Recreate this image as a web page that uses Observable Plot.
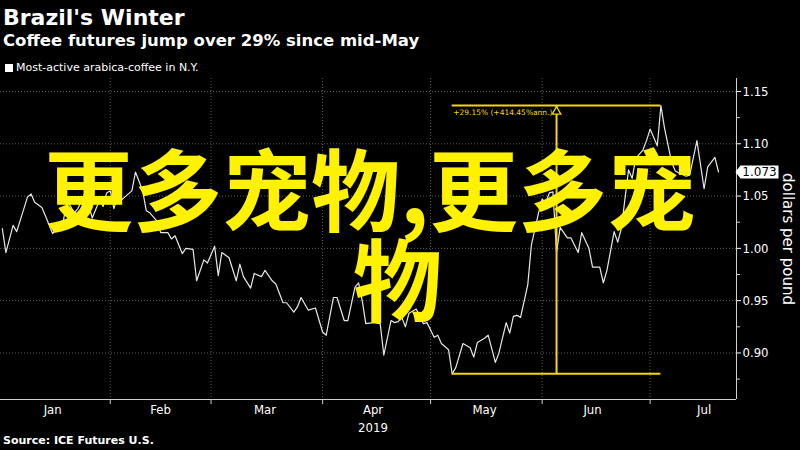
<!DOCTYPE html>
<html>
<head>
<meta charset="utf-8">
<script src="https://cdn.jsdelivr.net/npm/d3@7"></script>
<script src="https://cdn.jsdelivr.net/npm/@observablehq/plot@0.6"></script>
<style>
  html, body { margin: 0; padding: 0; background: #000; }
  #wrap { position: relative; width: 800px; height: 450px; background: #000; overflow: hidden;
          font-family: "DejaVu Sans", sans-serif; color: #fff; }
  #title { position: absolute; left: 3px; top: 7px; font-weight: bold; font-size: 22px; line-height: 22px; white-space: nowrap; }
  #subtitle { position: absolute; left: 3px; top: 33px; font-weight: bold; font-size: 16.5px; line-height: 16.5px; white-space: nowrap; }
  #legend { position: absolute; left: 5px; top: 62px; font-size: 11px; line-height: 12px; white-space: nowrap; display: flex; align-items: center; }
  #legend .sw { display: inline-block; width: 8px; height: 8px; background: #fff; margin-right: 3px; }
  #chart { position: absolute; left: 0; top: 78px; }
  #caption { position: absolute; left: 3px; top: 434px; font-weight: bold; font-size: 11px; line-height: 13px; white-space: nowrap; }
  #big { position: absolute; left: 44px; top: 141px; font-family: "Noto Sans CJK SC", sans-serif; font-weight: 700; font-size: 89px;
         line-height: 90px; color: #fff200; white-space: nowrap; pointer-events: none; }
  #big .l2 { margin-left: 309px; }
</style>
</head>
<body>
<div id="wrap">
  <div id="title"></div>
  <div id="subtitle"></div>
  <div id="legend"><span class="sw"></span><span id="legendText"></span></div>
  <div id="chart"></div>
  <div id="caption"></div>
  <div id="big"><span id="big1"></span><br><span class="l2" id="big2"></span></div>
</div>
<script>
// ---- text ----
const titleText = "Brazil's Winter";
const subtitleText = "Coffee futures jump over 29% since mid-May";
const legendLabel = "Most-active arabica-coffee in N.Y.";
const captionText = "Source: ICE Futures U.S.";
const overlayLine1 = "更多宠物,更多宠";
const overlayLine2 = "物";
const yAxisLabel = "dollars per pound";

// ---- series ----
const dates = [
"2019-01-02","2019-01-03","2019-01-05","2019-01-06","2019-01-07","2019-01-09","2019-01-10","2019-01-11","2019-01-13","2019-01-14",
"2019-01-16","2019-01-17","2019-01-19","2019-01-20","2019-01-22","2019-01-23","2019-01-25","2019-01-26","2019-01-27","2019-01-29",
"2019-01-30","2019-01-31","2019-02-01","2019-02-02","2019-02-03","2019-02-04","2019-02-05","2019-02-07","2019-02-08","2019-02-10",
"2019-02-11","2019-02-12","2019-02-14","2019-02-15","2019-02-17","2019-02-18","2019-02-19","2019-02-21","2019-02-22","2019-02-24",
"2019-02-25","2019-02-27","2019-02-28","2019-03-02","2019-03-03","2019-03-04","2019-03-06","2019-03-08","2019-03-09","2019-03-10",
"2019-03-12","2019-03-13","2019-03-15","2019-03-16","2019-03-18","2019-03-19","2019-03-21","2019-03-22","2019-03-24","2019-03-25",
"2019-03-26","2019-03-28","2019-03-30","2019-04-01","2019-04-02","2019-04-04","2019-04-05","2019-04-07","2019-04-08","2019-04-10",
"2019-04-11","2019-04-12","2019-04-13","2019-04-15","2019-04-17","2019-04-18","2019-04-20","2019-04-21","2019-04-22","2019-04-23",
"2019-04-24","2019-04-25","2019-04-27","2019-04-29","2019-04-30","2019-05-02","2019-05-03","2019-05-04","2019-05-06","2019-05-07",
"2019-05-08","2019-05-10","2019-05-12","2019-05-13","2019-05-14","2019-05-16","2019-05-17","2019-05-19","2019-05-20","2019-05-22",
"2019-05-23","2019-05-24","2019-05-25","2019-05-26","2019-05-28","2019-05-29","2019-05-31","2019-06-01","2019-06-02","2019-06-03",
"2019-06-04","2019-06-05","2019-06-06","2019-06-08","2019-06-09","2019-06-11","2019-06-12","2019-06-14","2019-06-15","2019-06-17",
"2019-06-18","2019-06-19","2019-06-21","2019-06-22","2019-06-23","2019-06-25","2019-06-26","2019-06-27","2019-06-29","2019-06-30",
"2019-07-01","2019-07-03","2019-07-04","2019-07-05","2019-07-07","2019-07-08","2019-07-09","2019-07-11","2019-07-12","2019-07-14",
"2019-07-16","2019-07-17","2019-07-19","2019-07-20"
];
const prices = [
1.019, 0.996, 1.022, 1.016, 1.027, 1.049, 1.052, 1.044, 1.039, 1.031,
1.014, 1.021, 1.027, 1.046, 1.034, 1.038, 1.053, 1.041, 1.029, 1.046,
1.040, 1.053, 1.055, 1.038, 1.049, 1.046, 1.049, 1.055, 1.073, 1.055,
1.036, 1.034, 1.026, 1.015, 1.015, 1.009, 1.012, 0.995, 1.000, 0.999,
0.969, 0.989, 0.986, 1.002, 0.974, 0.996, 0.991, 0.969, 0.985, 0.973,
0.962, 0.976, 0.973, 0.979, 0.969, 0.966, 0.948, 0.948, 0.939, 0.944,
0.953, 0.941, 0.943, 0.920, 0.917, 0.953, 0.953, 0.931, 0.931, 0.963,
0.967, 0.950, 0.928, 0.929, 0.928, 0.898, 0.931, 0.929, 0.930, 0.934,
0.925, 0.938, 0.942, 0.928, 0.929, 0.915, 0.917, 0.909, 0.903, 0.880,
0.886, 0.909, 0.905, 0.896, 0.910, 0.914, 0.917, 0.891, 0.900, 0.929,
0.919, 0.935, 0.936, 0.934, 0.965, 1.003, 1.034, 1.047, 1.044, 1.053,
1.054, 0.996, 1.020, 1.010, 1.010, 0.996, 1.015, 1.000, 0.982, 0.982,
0.967, 0.979, 1.016, 1.006, 1.019, 1.075, 1.067, 1.086, 1.094, 1.103,
1.114, 1.098, 1.1365, 1.115, 1.082, 1.074, 1.072, 1.069, 1.070, 1.103,
1.057, 1.078, 1.087, 1.073
];

// ---- axes ----
const yTicks = [0.90, 0.95, 1.00, 1.05, 1.10, 1.15];
const yMinorTicks = [0.875, 0.925, 0.975, 1.025, 1.075, 1.125];
const monthStarts = ["2019-01-01","2019-02-01","2019-03-01","2019-04-01","2019-05-01","2019-06-01","2019-07-01"];
const monthLabelDates = ["2019-01-16","2019-02-15","2019-03-16","2019-04-15","2019-05-16","2019-06-15","2019-07-16"];
const monthLabels = ["Jan","Feb","Mar","Apr","May","Jun","Jul"];
const yearLabel = ["2019"];
const yearLabelDate = "2019-04-15";

// ---- annotation ----
const changeStart = "2019-05-07";
const changeEnd = "2019-07-04";
const changeLow = 0.880;
const changeHigh = 1.1365;
const changeText = ["+29.15% (+414.45%ann.)"];
const lastLabel = ["1.073"];

// ---- build ----
document.getElementById("title").textContent = titleText;
document.getElementById("subtitle").textContent = subtitleText;
document.getElementById("legendText").textContent = legendLabel;
document.getElementById("caption").textContent = captionText;
document.getElementById("big1").textContent = overlayLine1;
document.getElementById("big2").textContent = overlayLine2;

const parse = d3.utcParse("%Y-%m-%d");
const data = dates.map((d, i) => ({date: parse(d), price: prices[i]}));
const xDomain = [new Date(Date.UTC(2019, 0, 1, 12)), new Date(Date.UTC(2019, 6, 25, 0))];
const yDomain = [0.8555, 1.1624];
const t0 = parse(changeStart), t1 = parse(changeEnd);
const tMid = new Date((+t0 + +t1) / 2);
const annH = [{y: changeLow, x1: t0, x2: t1}, {y: changeHigh, x1: t0, x2: t1}];
const last = data[data.length - 1];

const yellow = "#f2d611";
const grid = "#5c5c5c";
const axisCol = "#d0d0d0";

const labelBox = {
  draw(ctx) {
    ctx.moveTo(-5, 0);
    ctx.lineTo(0, -6.5);
    ctx.lineTo(38, -6.5);
    ctx.lineTo(38, 6.5);
    ctx.lineTo(0, 6.5);
    ctx.closePath();
  }
};

const plot = Plot.plot({
  width: 800,
  height: 356,
  marginLeft: 0,
  marginRight: 64,
  marginTop: 0,
  marginBottom: 35,
  style: {background: "#000", color: "#fff", fontFamily: "'DejaVu Sans Condensed', 'DejaVu Sans', sans-serif"},
  x: {type: "utc", domain: xDomain},
  y: {domain: yDomain},
  marks: [
    Plot.ruleY(yTicks, {stroke: grid, strokeDasharray: "1,2"}),
    Plot.ruleX(monthStarts.slice(1).map(parse), {stroke: grid, strokeDasharray: "1,2"}),
    Plot.ruleY([yDomain[0]], {stroke: axisCol}),
    Plot.ruleX([xDomain[1]], {stroke: axisCol}),
    Plot.axisX({ticks: monthStarts.map(parse), tickSize: 5, tickFormat: () => "", color: axisCol, label: null}),
    Plot.text(monthLabels, {x: (d, i) => parse(monthLabelDates[i]), frameAnchor: "bottom", textAnchor: "middle", lineAnchor: "middle", dy: 10, fontSize: 13, fill: "#fff"}),
    Plot.text(yearLabel, {x: () => parse(yearLabelDate), frameAnchor: "bottom", textAnchor: "middle", lineAnchor: "middle", dy: 28, fontSize: 13, fill: "#fff"}),
    Plot.axisY({ticks: yTicks, anchor: "right", tickSize: 4, tickPadding: 2, tickFormat: d3.format(".2f"), fontSize: 13, color: "#fff", label: null}),
    Plot.axisY({ticks: yMinorTicks, anchor: "right", tickSize: 3, tickFormat: () => "", color: axisCol, label: null}),
    Plot.text([yAxisLabel], {frameAnchor: "right", textAnchor: "middle", lineAnchor: "middle", rotate: 90, dx: 51, fontSize: 15, fill: "#fff", fontFamily: "'DejaVu Sans', sans-serif"}),
    Plot.line(data, {x: "date", y: "price", stroke: "#e8e8e8", strokeWidth: 1.2}),
    Plot.ruleY(annH, {y: "y", x1: "x1", x2: "x2", stroke: yellow, strokeWidth: 2}),
    Plot.ruleX([tMid], {y1: changeLow, y2: changeHigh, stroke: yellow, strokeWidth: 2}),
    Plot.dot([tMid], {x: d => d, y: () => changeHigh, symbol: "triangle", r: 3.2, stroke: yellow, strokeWidth: 1.3, fill: "#000", dy: 6}),
    Plot.text(changeText, {x: () => t0, y: () => changeHigh, textAnchor: "start", lineAnchor: "middle", dx: 1, dy: 7, fontSize: 7.5, fill: yellow, fontFamily: "'DejaVu Sans', sans-serif"}),
    Plot.dot([last], {frameAnchor: "right", y: "price", symbol: labelBox, fill: "#fff", stroke: "none", dx: 4}),
    Plot.text(lastLabel, {frameAnchor: "right", y: () => last.price, textAnchor: "middle", lineAnchor: "middle", dx: 23, fontSize: 12, fill: "#000", fontFamily: "'DejaVu Sans', sans-serif"})
  ]
});
document.getElementById("chart").appendChild(plot);
</script>
</body>
</html>
